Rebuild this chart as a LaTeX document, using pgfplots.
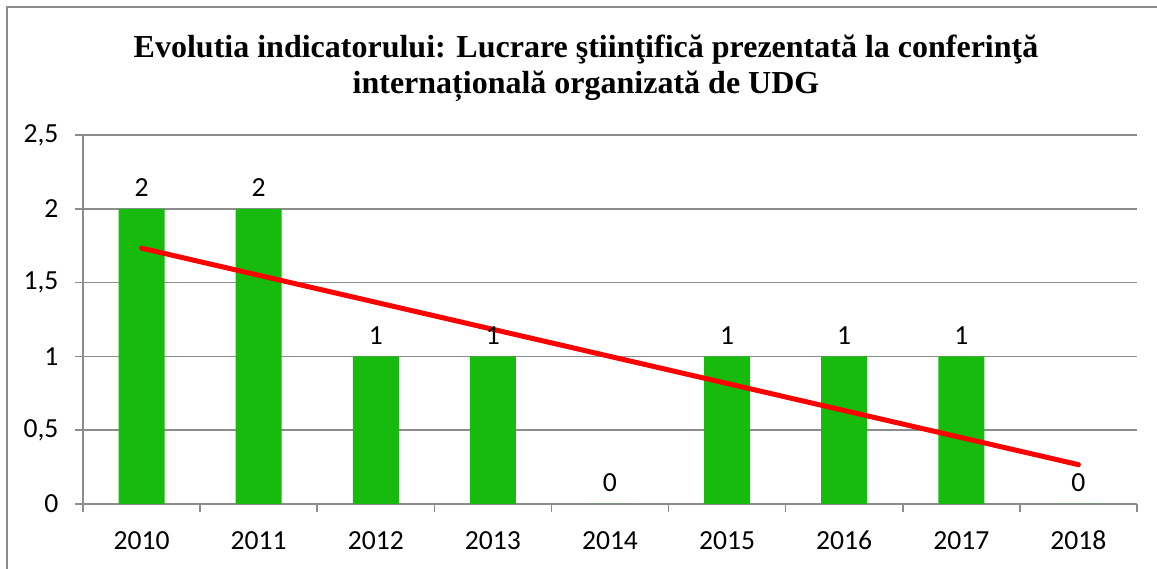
\documentclass[border=0pt]{standalone}
\usepackage{fontspec}
\setmainfont{Liberation Serif}
\newfontfamily\calib{Carlito}
\usepackage{graphicx}
\usepackage{pgfplots}
\pgfplotsset{compat=1.18}
\definecolor{barg}{RGB}{23,187,13}
\definecolor{gridg}{RGB}{140,140,140}
\begin{document}
\begin{tikzpicture}
\begin{axis}[
 at={(41.5pt,32pt)}, anchor=south west,
 scale only axis, width=527pt, height=184.5pt,
 xmin=-0.5, xmax=8.5, ymin=0, ymax=2.5,
 axis lines=left, axis line style={gridg, line width=0.75pt, -},
 xtick={-0.5,0.5,1.5,2.5,3.5,4.5,5.5,6.5,7.5,8.5},
 x tick label as interval,
 xticklabels={2010,2011,2012,2013,2014,2015,2016,2017,2018},
 ytick={0,0.5,1,1.5,2,2.5},
 /pgf/number format/use comma,
 /pgf/number format/assume math mode=true,
 tick align=outside,
 major tick length=3.75pt,
 tick style={gridg, line width=0.75pt},
 ymajorgrids,
 grid style={gridg, line width=0.75pt},
 ticklabel style={font=\calib\fontsize{13.8pt}{16pt}\selectfont, black},
 xticklabel style={text height=9pt, text depth=0pt, yshift=-6.5pt},
 yticklabel style={xshift=-5pt},
 clip=false,
]
\addplot[ybar, bar width=23pt, fill=barg, draw=none,
  nodes near coords,
  every node near coord/.append style={font=\calib\fontsize{13.8pt}{16pt}\selectfont, black, yshift=2.5pt}]
  coordinates {(0,2)(1,2)(2,1)(3,1)(4,0)(5,1)(6,1)(7,1)(8,0)};
\addplot[red, line width=2.5pt, line cap=round, mark=none]
  coordinates {(0,1.7333)(8,0.2667)};
\end{axis}
\node[anchor=base, font=\bfseries\fontsize{16pt}{19pt}\selectfont] at (293pt,255pt)
  {Evolutia indicatorului: Lucrare ştiinţifică prezentată la conferinţă};
\node[anchor=base, font=\bfseries\fontsize{16pt}{19pt}\selectfont] at (293pt,237pt)
  {internațională organizată de UDG};
\draw[gridg, line width=1pt] (3.5pt,-20pt) rectangle (600pt,280.5pt);
\pgfresetboundingbox
\path[use as bounding box] (0,0) rectangle (578.5pt,284pt);
\end{tikzpicture}
\end{document}
